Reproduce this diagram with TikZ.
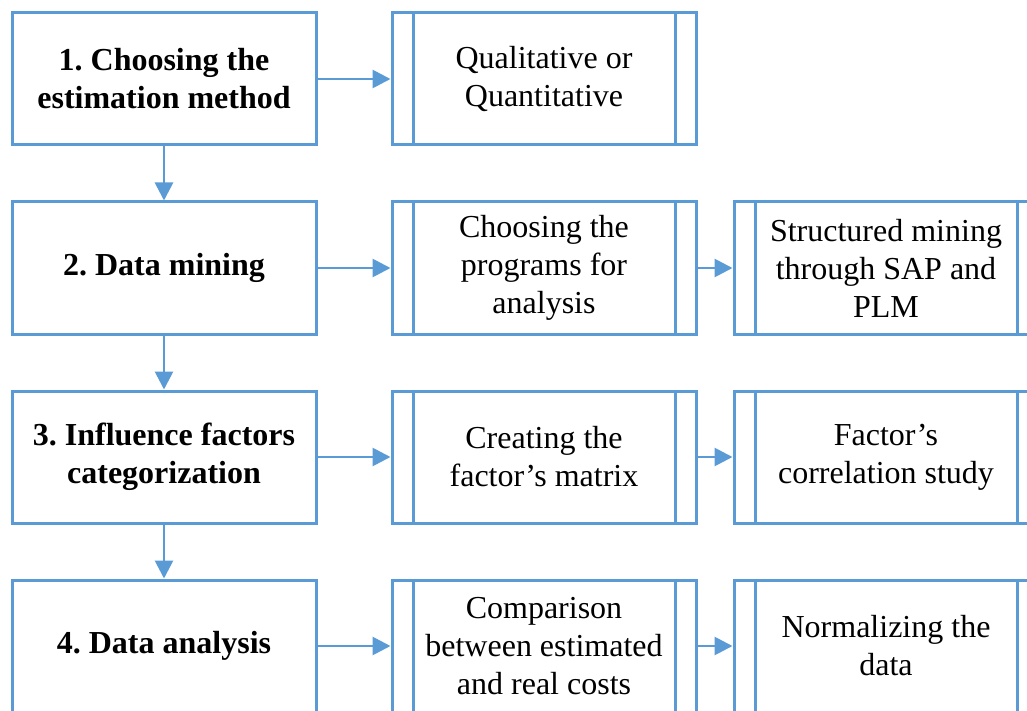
\documentclass[tikz,border=0pt]{standalone}
\usepackage{fontspec}
\setmainfont{Liberation Serif}
\usetikzlibrary{arrows.meta}
\definecolor{lineblue}{RGB}{91,155,213}
\tikzset{
  box/.style={draw=lineblue, line width=3pt, minimum width=304pt, minimum height=132pt,
    inner sep=0pt, align=center, fill=white, font=\fontsize{32}{38}\selectfont\frenchspacing},
  mainbox/.style={box, font=\fontsize{32}{38}\selectfont\bfseries\frenchspacing},
  procline/.style={draw=lineblue, line width=3pt},
  conn/.style={draw=lineblue, line width=2.8pt, -{Triangle[length=18pt,width=18pt]}}
}
\begin{document}
\begin{tikzpicture}[x=1pt,y=-1pt]
\useasboundingbox (0,0) rectangle (1027,711);
\clip (0,0) rectangle (1027,711);
% left column
\node[mainbox] (l1) at (164,79) {1. Choosing the\\estimation method};
\node[mainbox] (l2) at (164,268) {2. Data mining};
\node[mainbox] (l3) at (164,457) {3. Influence factors\\categorization};
\node[mainbox] (l4) at (164,646) {4. Data analysis};
% middle column
\node[box] (m1) at (544,79) {Qualitative or\\Quantitative};
\node[box] (m2) at (544,268) {Choosing the\\programs for\\analysis};
\node[box] (m3) at (544,457) {Creating the\\factor’s matrix};
\node[box] (m4) at (544,646) {Comparison\\between estimated\\and real costs};
% right column
\node[box] (r2) at (886,268) {Structured mining\\through SAP and\\PLM};
\node[box] (r3) at (886,457) {Factor’s\\correlation study};
\node[box] (r4) at (886,646) {Normalizing the\\data};
% predefined-process inner lines
\foreach \n in {m1,m2,m3,m4,r2,r3,r4}{
  \draw[procline] ([xshift=23pt]\n.north west) -- ([xshift=23pt]\n.south west);
  \draw[procline] ([xshift=-22pt]\n.north east) -- ([xshift=-22pt]\n.south east);
}
% vertical connectors
\draw[conn] (l1.south) -- (l2.north);
\draw[conn] (l2.south) -- (l3.north);
\draw[conn] (l3.south) -- (l4.north);
% horizontal connectors
\draw[conn] (l1.east) -- (m1.west);
\draw[conn] (l2.east) -- (m2.west);
\draw[conn] (l3.east) -- (m3.west);
\draw[conn] (l4.east) -- (m4.west);
\draw[conn] (m2.east) -- (r2.west);
\draw[conn] (m3.east) -- (r3.west);
\draw[conn] (m4.east) -- (r4.west);
\end{tikzpicture}
\end{document}
